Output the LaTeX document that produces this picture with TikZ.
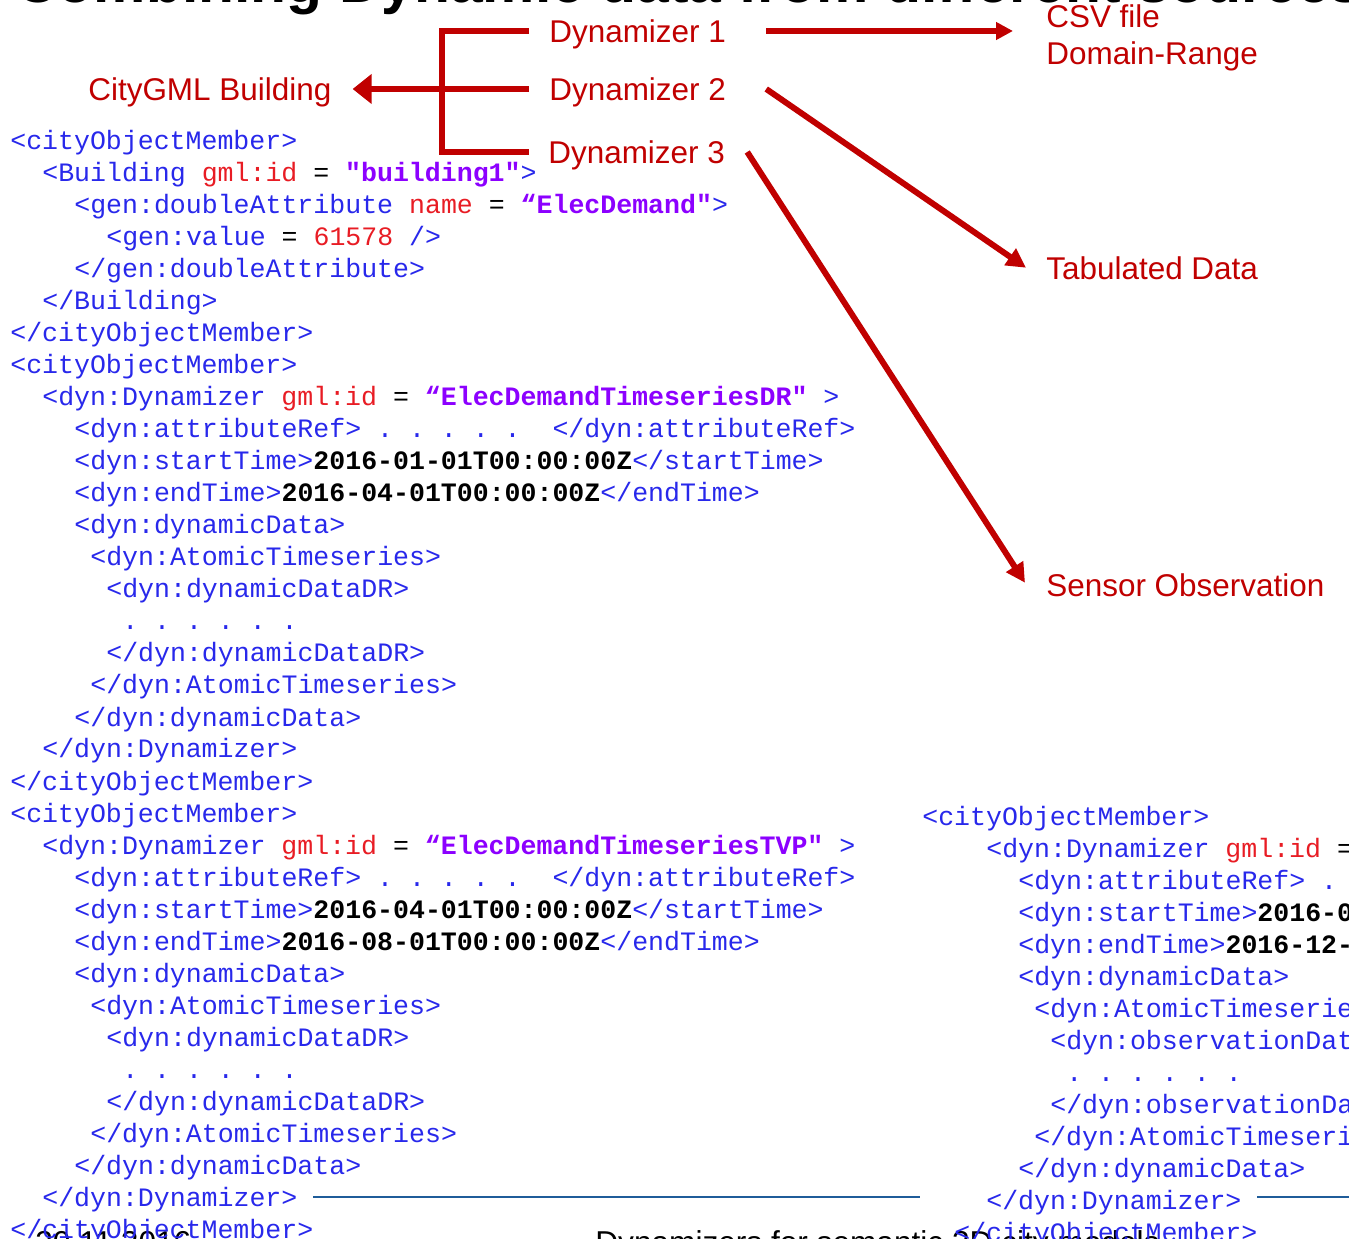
\documentclass[tikz,border=0pt]{standalone}
\usepackage{fontspec}
\setmainfont{Liberation Sans}
\newfontfamily\codefont{Liberation Mono}
\usetikzlibrary{arrows.meta,calc}
\definecolor{arrowred}{RGB}{192,0,0}
\definecolor{tagblue}{RGB}{40,40,235}
\definecolor{attrred}{RGB}{232,28,36}
\definecolor{valviolet}{RGB}{140,0,255}
\definecolor{ruleblue}{RGB}{31,92,153}
\def\attr#1{{\color{attrred}#1}}
\def\eq{{\color{black}=}}
\def\val#1{{\color{valviolet}\bfseries#1}}
\def\stamp#1{{\color{black}\bfseries#1}}
\def\xmlline#1#2#3#4{
  % 1: name
  % 2: row
  % 3: indent (chars)
  % 4: text
  \node[xmltext] (#1) at (16*#3,32*#2) {#4};
}

\begin{document}
\begin{tikzpicture}[x=0.02cm,y=-0.02cm,
    xmltext/.style={anchor=base west,inner sep=0pt,text=tagblue,font=\codefont\fontsize{15.12}{18}\selectfont\frenchspacing},
    redtext/.style={inner sep=0pt,text=arrowred,font=\fontsize{17.9}{21.5}\selectfont},
    footer/.style={anchor=base west,inner sep=0pt,font=\fontsize{18}{21}\selectfont},
    redline/.style={draw=arrowred,line width=3.4pt}]
    \path[use as bounding box] (0,0) rectangle (1349,1239);
    \clip (0,0) rectangle (1349,1239);

    \node[anchor=base west,inner sep=0pt,font=\bfseries\fontsize{33.5}{38}\selectfont] (title) at (15,3) {Combining Dynamic data from different sources};
    \node[footer] (date) at (35,1253) {30.11.2016};
    \node[footer] (foot) at (595,1253) {Dynamizers for semantic 3D city models};
    \draw[ruleblue,line width=1.2pt] (313,1197) -- (920,1197) (1257,1197) -- (1349,1197);

    % left block
    \begin{scope}[shift={(10,150)}]
    \xmlline{m1}{0}{0}{<cityObjectMember>}
    \xmlline{bd}{1}{2}{<Building \attr{gml:id} \eq{} \val{"building1"}>}
    \xmlline{da}{2}{4}{<gen:doubleAttribute \attr{name} \eq{} \val{“ElecDemand"}>}
    \xmlline{gv}{3}{6}{<gen:value \eq{} \attr{61578} />}
    \xmlline{dae}{4}{4}{</gen:doubleAttribute>}
    \xmlline{bde}{5}{2}{</Building>}
    \xmlline{m1e}{6}{0}{</cityObjectMember>}
    \xmlline{m2}{7}{0}{<cityObjectMember>}
    \xmlline{dr}{8}{2}{<dyn:Dynamizer \attr{gml:id} \eq{} \val{“ElecDemandTimeseriesDR"} >}
    \xmlline{dra}{9}{4}{<dyn:attributeRef> . . . . .~ </dyn:attributeRef>}
    \xmlline{drs}{10}{4}{<dyn:startTime>\stamp{2016-01-01T00:00:00Z}</startTime>}
    \xmlline{dre}{11}{4}{<dyn:endTime>\stamp{2016-04-01T00:00:00Z}</endTime>}
    \xmlline{drd}{12}{4}{<dyn:dynamicData>}
    \xmlline{drt}{13}{5}{<dyn:AtomicTimeseries>}
    \xmlline{drr}{14}{6}{<dyn:dynamicDataDR>}
    \xmlline{drp}{15}{7}{. . . . . .}
    \xmlline{drre}{16}{6}{</dyn:dynamicDataDR>}
    \xmlline{drte}{17}{5}{</dyn:AtomicTimeseries>}
    \xmlline{drde}{18}{4}{</dyn:dynamicData>}
    \xmlline{dre2}{19}{2}{</dyn:Dynamizer>}
    \xmlline{m2e}{20}{0}{</cityObjectMember>}
    \xmlline{m3}{21}{0}{<cityObjectMember>}
    \xmlline{tv}{22}{2}{<dyn:Dynamizer \attr{gml:id} \eq{} \val{“ElecDemandTimeseriesTVP"} >}
    \xmlline{tva}{23}{4}{<dyn:attributeRef> . . . . .~ </dyn:attributeRef>}
    \xmlline{tvs}{24}{4}{<dyn:startTime>\stamp{2016-04-01T00:00:00Z}</startTime>}
    \xmlline{tve}{25}{4}{<dyn:endTime>\stamp{2016-08-01T00:00:00Z}</endTime>}
    \xmlline{tvd}{26}{4}{<dyn:dynamicData>}
    \xmlline{tvt}{27}{5}{<dyn:AtomicTimeseries>}
    \xmlline{tvr}{28}{6}{<dyn:dynamicDataDR>}
    \xmlline{tvp}{29}{7}{. . . . . .}
    \xmlline{tvre}{30}{6}{</dyn:dynamicDataDR>}
    \xmlline{tvte}{31}{5}{</dyn:AtomicTimeseries>}
    \xmlline{tvde}{32}{4}{</dyn:dynamicData>}
    \xmlline{tve2}{33}{2}{</dyn:Dynamizer>}
    \xmlline{m3e}{34}{0}{</cityObjectMember>}
    \end{scope}

    % right block
    \begin{scope}[shift={(922,825)}]
    \xmlline{m4}{0}{0}{<cityObjectMember>}
    \xmlline{so}{1}{4}{<dyn:Dynamizer \attr{gml:id} \eq}
    \xmlline{soa}{2}{6}{<dyn:attributeRef> . . . . .~ </dyn:attributeRef>}
    \xmlline{sos}{3}{6}{<dyn:startTime>\stamp{2016-0}}
    \xmlline{soe}{4}{6}{<dyn:endTime>\stamp{2016-12-}}
    \xmlline{sod}{5}{6}{<dyn:dynamicData>}
    \xmlline{sot}{6}{7}{<dyn:AtomicTimeseries>}
    \xmlline{sob}{7}{8}{<dyn:observationData>}
    \xmlline{sop}{8}{9}{. . . . . .}
    \xmlline{sobe}{9}{8}{</dyn:observationData>}
    \xmlline{sote}{10}{7}{</dyn:AtomicTimeseries>}
    \xmlline{sode}{11}{6}{</dyn:dynamicData>}
    \xmlline{soe2}{12}{4}{</dyn:Dynamizer>}
    \xmlline{m4e}{13}{2}{</cityObjectMember>}
    \end{scope}

    % labels
    \node[redtext,text depth=0pt,anchor=west] (dyn1) at (549,31) {Dynamizer 1};
    \node[redtext,text depth=0pt,anchor=west] (dyn2) at (549,89) {Dynamizer 2};
    \node[redtext,text depth=0pt,anchor=west] (dyn3) at (548,152) {Dynamizer 3};
    \node[redtext,text depth=0pt,anchor=west] (bldg) at (88,89) {CityGML Building};
    \node[redtext,anchor=base west,align=left] (csv) at (1046,65) {CSV file\\Domain-Range};
    \node[redtext,anchor=base west] (tab) at (1046,280) {Tabulated Data};
    \node[redtext,anchor=base west] (sens) at (1046,597) {Sensor Observation};

    % arrows
    \draw[redline] ($(dyn1.west)+(-20,0)$) -- ($(dyn1.west)+(-107,0)$) |- ($(dyn3.west)+(-19,0)$);
    \draw[redline,-{Triangle[length=10.8pt,width=16.4pt]}] ($(dyn2.west)+(-20,0)$) -- ($(bldg.east)+(21,0)$);
    \draw[redline,-{Triangle[length=9.6pt,width=9.6pt]}] ($(dyn1.east)+(40,0)$) -- ($(dyn1.east -| csv.west)+(-33,0)$);
    \draw[redline,-{Triangle[length=11pt,width=11pt]}] ($(dyn2.east)+(40,0)$) -- ($(tab.west)+(-20,-1)$);
    \draw[redline,-{Triangle[length=11pt,width=11pt]}] ($(dyn3.east)+(22,0)$) -- ($(sens.west)+(-21,-3)$);
\end{tikzpicture}
\end{document}
